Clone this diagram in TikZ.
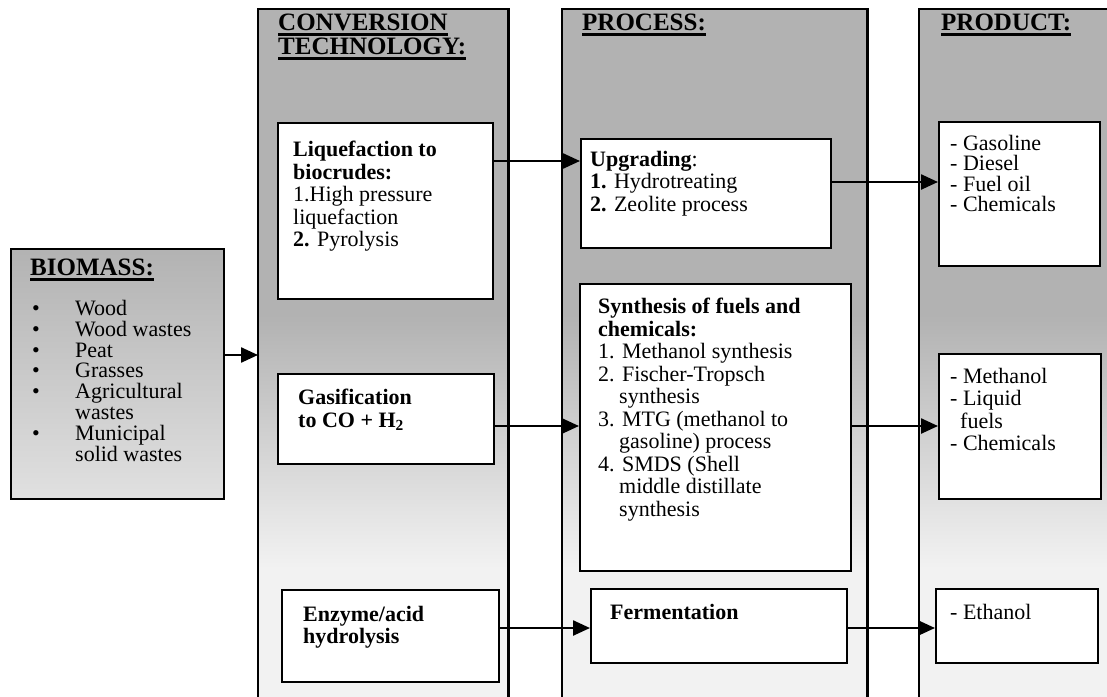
\documentclass[tikz,border=0pt]{standalone}
\usepackage{fontspec}
\setmainfont{Liberation Serif}
\usetikzlibrary{arrows.meta}
\pgfdeclareverticalshading{colshade}{100bp}{color(0bp)=(black!5); color(35bp)=(black!5); color(53bp)=(black!30); color(100bp)=(black!30)}
\pgfdeclareverticalshading{bioshade}{100bp}{color(0bp)=(black!12); color(25bp)=(black!12); color(75bp)=(black!30); color(100bp)=(black!30)}
\newcommand\ulhead[1]{\setbox0=\hbox{#1}\rlap{\vrule height -2.5pt depth 5pt width \wd0}\box0}
\begin{document}
\begin{tikzpicture}[x=1pt,y=-1pt,
  box/.style={draw, line width=2.4pt, fill=white, inner sep=0pt, anchor=north west},
  biobox/.style={draw, line width=2.4pt, inner sep=0pt, anchor=north west, shade, shading=bioshade},
  col/.style={inner sep=0pt, anchor=north west, shade, shading=colshade, minimum height=700pt},
  colline/.style={line width=2.4pt},
  txt/.style={inner sep=0pt, anchor=north west, align=left, font=\fontsize{22}{22.5}\selectfont},
  head/.style={inner sep=0pt, anchor=north west, align=left, font=\fontsize{25}{24}\selectfont\bfseries},
  arr/.style={line width=2.4pt, -{Triangle[length=17pt,width=15pt]}}
]
\useasboundingbox (0,0) rectangle (1107,696);
\fill[white] (0,0) rectangle (1107,696);

% columns
\node[col, minimum width=250pt] (conv) at (258,9) {};
\node[col, minimum width=305pt] (proc) at (562,9) {};
\node[col, minimum width=190pt] (prod) at (919,9) {};
\draw[colline] (conv.south west) |- (conv.north east) -- (conv.south east);
\draw[colline] (proc.south west) |- (proc.north east) -- (proc.south east);
\draw[colline] (prod.south west) |- (prod.north east);

% headers
\node[head] (convh) at (278,14) {\ulhead{CONVERSION}\\\ulhead{TECHNOLOGY:}};
\node[head] (proch) at (582,14) {\ulhead{PROCESS:}};
\node[head] (prodh) at (941,14) {\ulhead{PRODUCT:}};

% biomass
\node[biobox, minimum width=213pt, minimum height=250pt] (bio) at (10,248) {};
\node[head] (bioh) at (30,259) {\ulhead{BIOMASS:}};
\node[txt, font=\fontsize{22}{20.8}\selectfont] (biot) at (32,300) {%
\makebox[43pt][l]{\textbullet}Wood\\
\makebox[43pt][l]{\textbullet}Wood wastes\\
\makebox[43pt][l]{\textbullet}Peat\\
\makebox[43pt][l]{\textbullet}Grasses\\
\makebox[43pt][l]{\textbullet}Agricultural\\
\hspace*{43pt}wastes\\
\makebox[43pt][l]{\textbullet}Municipal\\
\hspace*{43pt}solid wastes};

% conversion boxes
\node[box, minimum width=215pt, minimum height=176pt] (liq) at (277,122) {};
\node[txt] (liqt) at (293,141) {\textbf{Liquefaction to}\\\textbf{biocrudes:}\\1.High pressure\\liquefaction\\\textbf{2.} Pyrolysis};
\node[box, minimum width=216pt, minimum height=90pt] (gas) at (277,373) {};
\node[txt] (gast) at (298,389) {\textbf{Gasification}\\\textbf{to CO + H\textsubscript{2}}};
\node[box, minimum width=217pt, minimum height=92pt] (enz) at (281,589) {};
\node[txt] (enzt) at (303,606) {\textbf{Enzyme/acid}\\\textbf{hydrolysis}};

% process boxes
\node[box, minimum width=250pt, minimum height=109pt] (upg) at (580,138) {};
\node[txt] (upgt) at (590,151) {\textbf{Upgrading}:\\\textbf{1.} Hydrotreating\\\textbf{2.} Zeolite process};
\node[box, minimum width=271pt, minimum height=287pt] (syn) at (579,283) {};
\node[txt] (synt) at (598,298) {\textbf{Synthesis of fuels and}\\\textbf{chemicals:}\\1. Methanol synthesis\\2. Fischer-Tropsch\\\hspace*{21pt}synthesis\\3. MTG (methanol to\\\hspace*{21pt}gasoline) process\\4. SMDS (Shell\\\hspace*{21pt}middle distillate\\\hspace*{21pt}synthesis};
\node[box, minimum width=256pt, minimum height=74pt] (fer) at (590,588) {};
\node[txt] (fert) at (610,604) {\textbf{Fermentation}};

% product boxes
\node[box, minimum width=161pt, minimum height=144pt] (pr1) at (938,121) {};
\node[txt, font=\fontsize{22}{20.5}\selectfont] (pr1t) at (950,135) {- Gasoline\\- Diesel\\- Fuel oil\\- Chemicals};
\node[box, minimum width=162pt, minimum height=145pt] (pr2) at (938,353) {};
\node[txt] (pr2t) at (950,368) {- Methanol\\- Liquid\\\hspace*{10pt}fuels\\- Chemicals};
\node[box, minimum width=162pt, minimum height=74pt] (pr3) at (935,588) {};
\node[txt] (pr3t) at (950,604) {- Ethanol};

% arrow levels
\coordinate (a0) at (0,355);
\coordinate (a1) at (0,161);
\coordinate (a2) at (0,182);
\coordinate (a3) at (0,426);
\coordinate (a4) at (0,628);

\draw[arr] (bio.east |- a0) -- (conv.west |- a0);
\draw[arr] (liq.east |- a1) -- (upg.west |- a1);
\draw[arr] (upg.east |- a2) -- (pr1.west |- a2);
\draw[arr] (gas.east |- a3) -- (syn.west |- a3);
\draw[arr] (syn.east |- a3) -- (pr2.west |- a3);
\draw[arr] (enz.east |- a4) -- (fer.west |- a4);
\draw[arr] (fer.east |- a4) -- (pr3.west |- a4);
\end{tikzpicture}
\end{document}
